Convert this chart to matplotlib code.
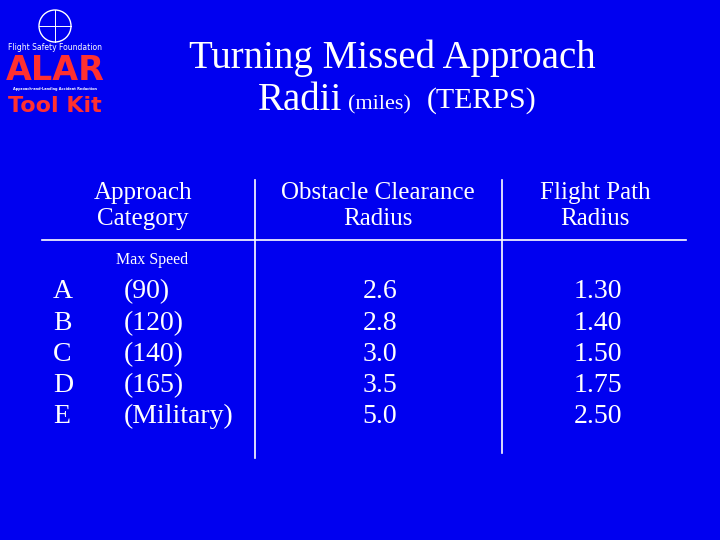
import matplotlib
matplotlib.use('Agg')
from matplotlib import pyplot as plt
from matplotlib.patches import Circle

categories = ['A', 'B', 'C', 'D', 'E']
max_speeds = ['(90)', '(120)', '(140)', '(165)', '(Military)']
obstacle_radius = ['2.6', '2.8', '3.0', '3.5', '5.0']
flight_path_radius = ['1.30', '1.40', '1.50', '1.75', '2.50']

BG = '#0000f0'
plt.rcParams['font.family'] = 'serif'
plt.rcParams['font.serif'] = ['Liberation Serif', 'Times New Roman', 'DejaVu Serif']

fig = plt.figure(figsize=(7.2, 5.4), dpi=100, facecolor=BG)
ax = fig.add_axes([0, 0, 1, 1])
ax.set_facecolor(BG)
ax.set_xlim(0, 720)
ax.set_ylim(540, 0)
ax.axis('off')

# logo
ax.add_patch(Circle((55, 26), 16, fill=False, ec='white', lw=1))
ax.plot([39, 71], [26, 26], color='white', lw=0.7)
ax.plot([55, 55], [10, 42], color='white', lw=0.7)
ax.text(55, 48, 'Flight Safety Foundation', color='white', fontsize=5.5,
        family='DejaVu Sans', ha='center', va='center')
ax.text(55, 70, 'ALAR', color='#ff3030', fontsize=24, family='DejaVu Sans',
        weight='bold', ha='center', va='center')
ax.text(55, 89, 'Approach-and-Landing Accident Reduction', color='white',
        fontsize=2.5, family='DejaVu Sans', weight='bold', ha='center', va='center')
ax.text(55, 106, 'Tool Kit', color='#ff3030', fontsize=16, family='DejaVu Sans',
        weight='bold', ha='center', va='center')

# title
ax.text(392, 58, 'Turning Missed Approach', color='white', fontsize=28,
        ha='center', va='center')
ax.text(258, 101, 'Radii', color='white', fontsize=28, ha='left', va='center')
ax.text(348, 105, '(miles)', color='white', fontsize=16, ha='left', va='center')
ax.text(427, 101, '(TERPS)', color='white', fontsize=21.5, ha='left', va='center')

# headers
hs = 18
for x, label in [(143, 'Approach\nCategory'), (378, 'Obstacle Clearance\nRadius'),
                 (595, 'Flight Path\nRadius')]:
    ax.text(x, 206, label, color='white', fontsize=hs,
            ha='center', va='center', linespacing=1.2)
ax.plot([42, 686], [240, 240], color='white', lw=1.2)
ax.plot([255, 255], [180, 458], color='white', lw=1.2)
ax.plot([502, 502], [180, 453], color='white', lw=1.2)
ax.text(152, 260, 'Max Speed', color='white', fontsize=11.5, ha='center', va='center')

# rows
for i in range(len(categories)):
    y = 292 + i * 31.2
    ax.text(53, y, categories[i], color='white', fontsize=20, ha='left', va='center')
    ax.text(124, y, max_speeds[i], color='white', fontsize=20, ha='left', va='center')
    ax.text(380, y, obstacle_radius[i], color='white', fontsize=20, ha='center', va='center')
    ax.text(598, y, flight_path_radius[i], color='white', fontsize=20, ha='center', va='center')

fig.savefig('out.png', dpi=100, facecolor=BG)
